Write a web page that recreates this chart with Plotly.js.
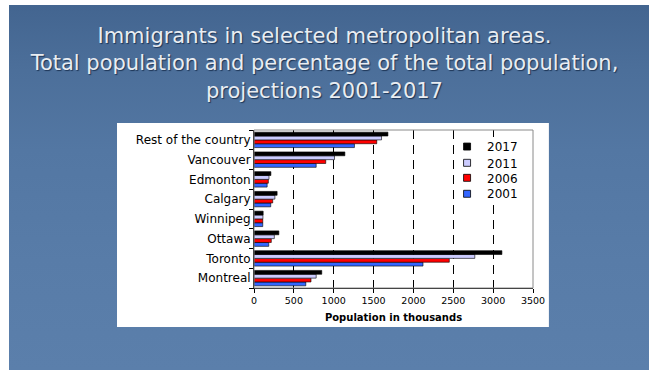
<!DOCTYPE html>
<html>
<head>
<meta charset="utf-8">
<script src="https://cdn.plot.ly/plotly-3.0.1.min.js"></script>
<style>
  html, body { margin: 0; padding: 0; background: #ffffff; }
  #wrap { position: relative; width: 649px; height: 370px; overflow: hidden; background: #ffffff; }
  #slide { position: absolute; left: 9px; top: 5px; right: 0; bottom: 0;
    background: linear-gradient(180deg, #436590 0%, #4c6f9a 18%, #5377a3 40%, #587ca8 70%, #5b7fab 100%); }
  #chart { position: absolute; left: 0; top: 0; width: 649px; height: 370px; }
</style>
</head>
<body>
<div id="wrap">
  <div id="slide"></div>
  <div id="chart"></div>
</div>
<script>
// ---- data ----
var cities = ["Montreal", "Toronto", "Ottawa", "Winnipeg", "Calgary", "Edmonton", "Vancouver", "Rest of the country"];
var years = ["2001", "2006", "2011", "2017"];
var pop2001 = [650, 2120, 185, 110, 210, 165, 780, 1260];
var pop2006 = [715, 2450, 217, 110, 235, 180, 900, 1540];
var pop2011 = [780, 2770, 255, 112, 262, 188, 1010, 1600];
var pop2017 = [850, 3110, 312, 115, 290, 212, 1140, 1680];
var xTicks = [0, 500, 1000, 1500, 2000, 2500, 3000, 3500];

var seriesValues = [pop2001, pop2006, pop2011, pop2017];
var seriesColors = ["#3366ff", "#ff0000", "#ccccff", "#000000"];
var legendIds = ["legend4", "legend3", "legend2", "legend"];

var traces = years.map(function (yr, i) {
  return {
    type: "bar",
    orientation: "h",
    name: yr,
    y: cities,
    x: seriesValues[i],
    marker: { color: seriesColors[i], line: { color: "#000000", width: 0.6 } },
    showlegend: false,
    hoverinfo: "x+name"
  };
});
// legend entries (small square keys like the original)
years.forEach(function (yr, i) {
  traces.push({
    type: "scatter",
    mode: "markers",
    name: yr,
    x: [null],
    y: [null],
    marker: { symbol: "square", size: 7, color: seriesColors[i], line: { color: "#000000", width: 0.8 } },
    legend: legendIds[i],
    showlegend: true,
    hoverinfo: "skip"
  });
});

var FONT = "DejaVu Sans, Arial, sans-serif";

function legendAt(yPaper) {
  return {
    x: 0.692, xanchor: "left",
    y: yPaper, yanchor: "top",
    bgcolor: "rgba(0,0,0,0)",
    font: { family: FONT, size: 12, color: "#000000" },
    itemclick: false,
    itemdoubleclick: false
  };
}

var layout = {
  width: 649,
  height: 370,
  paper_bgcolor: "rgba(0,0,0,0)",
  plot_bgcolor: "#ffffff",
  margin: { l: 254, r: 116, t: 130, b: 82 },
  barmode: "group",
  bargap: 0.22,
  bargroupgap: 0,
  title: {
    text: "Immigrants in selected metropolitan areas.<br>Total population and percentage of the total population,<br>projections 2001-2017",
    font: { family: FONT, size: 21, color: "#e9edf2", shadow: "1px 1px 1px #1d3556" },
    x: 0.5, xref: "container", xanchor: "center",
    y: 1 - 43 / 370, yref: "container", yanchor: "top"
  },
  xaxis: {
    range: [0, 3500],
    tickvals: xTicks,
    ticktext: xTicks.map(String),
    ticks: "outside",
    ticklen: 4,
    tickcolor: "#000000",
    showline: true,
    linecolor: "#000000",
    linewidth: 1,
    showgrid: true,
    gridcolor: "#000000",
    gridwidth: 1,
    griddash: "9px,6px",
    zeroline: false,
    tickfont: { family: FONT, size: 9.5, color: "#000000" },
    title: { text: "<b>Population in thousands</b>", font: { family: FONT, size: 10, color: "#000000" }, standoff: 8 },
    fixedrange: true
  },
  yaxis: {
    type: "category",
    categoryorder: "array",
    categoryarray: cities,
    ticks: "outside",
    tickson: "boundaries",
    ticklen: 4,
    tickcolor: "#000000",
    showline: true,
    linecolor: "#000000",
    linewidth: 1,
    showgrid: false,
    zeroline: false,
    tickfont: { family: FONT, size: 12, color: "#000000" },
    fixedrange: true
  },
  legend: legendAt(0.987),
  legend2: legendAt(0.884),
  legend3: legendAt(0.789),
  legend4: legendAt(0.688),
  shapes: [
    { type: "rect", xref: "paper", yref: "paper", x0: -0.491, x1: 1.057, y0: -0.247, y1: 1.044,
      fillcolor: "#ffffff", line: { width: 0 }, layer: "below" },
    { type: "rect", xref: "paper", yref: "paper", x0: 0.731, x1: 0.961, y0: 0.557, y1: 0.956,
      fillcolor: "#ffffff", line: { width: 0 }, layer: "above" },
    { type: "rect", xref: "paper", yref: "paper", x0: 0, x1: 1, y0: 0, y1: 1,
      fillcolor: "rgba(0,0,0,0)", line: { color: "#8a8a8a", width: 1 }, layer: "above" }
  ],
  showlegend: true
};

Plotly.newPlot("chart", traces, layout, { displayModeBar: false, staticPlot: true });
</script>
</body>
</html>
